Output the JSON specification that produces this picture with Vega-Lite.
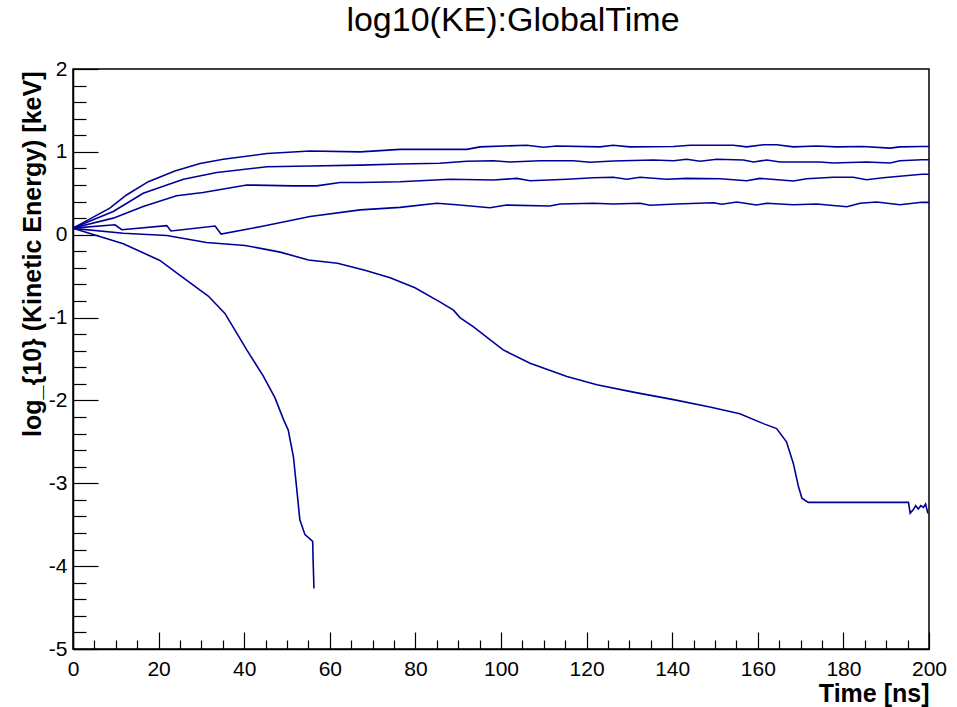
{
  "$schema": "https://vega.github.io/schema/vega-lite/v6.json",
  "width": 856,
  "height": 580,
  "autosize": "none",
  "padding": {"left": 73, "top": 69, "right": 28, "bottom": 58},
  "background": "white",
  "view": {"stroke": "black", "strokeWidth": 1.5},
  "config": {"font": "Liberation Sans"},
  "title": {"text": "log10(KE):GlobalTime", "fontSize": 34, "font": "Liberation Sans", "fontWeight": "normal", "color": "black", "anchor": "middle", "frame": "group", "offset": 20, "dx": 12},
  "datasets": {
    "tracks": [
      {"t":0,"ke":0.08,"track":"a"},{"t":8.6,"ke":0.32,"track":"a"},{"t":12.5,"ke":0.48,"track":"a"},{"t":17.6,"ke":0.64,"track":"a"},{"t":23.8,"ke":0.77,"track":"a"},{"t":29.7,"ke":0.86,"track":"a"},{"t":35.1,"ke":0.91,"track":"a"},{"t":45.3,"ke":0.98,"track":"a"},{"t":55.4,"ke":1.01,"track":"a"},{"t":67.1,"ke":1.0,"track":"a"},{"t":76.4,"ke":1.03,"track":"a"},{"t":92,"ke":1.03,"track":"a"},{"t":95.1,"ke":1.06,"track":"a"},{"t":106,"ke":1.08,"track":"a"},{"t":109.9,"ke":1.055,"track":"a"},{"t":113,"ke":1.07,"track":"a"},{"t":123.1,"ke":1.06,"track":"a"},{"t":126.2,"ke":1.08,"track":"a"},{"t":130.1,"ke":1.06,"track":"a"},{"t":140.3,"ke":1.065,"track":"a"},{"t":144.2,"ke":1.08,"track":"a"},{"t":154.3,"ke":1.08,"track":"a"},{"t":157.4,"ke":1.06,"track":"a"},{"t":161.3,"ke":1.085,"track":"a"},{"t":164.4,"ke":1.085,"track":"a"},{"t":168.3,"ke":1.06,"track":"a"},{"t":173.8,"ke":1.07,"track":"a"},{"t":178.4,"ke":1.06,"track":"a"},{"t":184.6,"ke":1.065,"track":"a"},{"t":190.9,"ke":1.045,"track":"a"},{"t":193.2,"ke":1.06,"track":"a"},{"t":198.3,"ke":1.065,"track":"a"},{"t":200,"ke":1.065,"track":"a"},
      {"t":0,"ke":0.08,"track":"b"},{"t":9.4,"ke":0.28,"track":"b"},{"t":16.4,"ke":0.5,"track":"b"},{"t":25.8,"ke":0.67,"track":"b"},{"t":33.6,"ke":0.75,"track":"b"},{"t":45.3,"ke":0.82,"track":"b"},{"t":55.4,"ke":0.83,"track":"b"},{"t":67.1,"ke":0.84,"track":"b"},{"t":76.4,"ke":0.853,"track":"b"},{"t":85.7,"ke":0.862,"track":"b"},{"t":92,"ke":0.886,"track":"b"},{"t":98.2,"ke":0.893,"track":"b"},{"t":102.1,"ke":0.877,"track":"b"},{"t":109.1,"ke":0.893,"track":"b"},{"t":116.9,"ke":0.893,"track":"b"},{"t":120.8,"ke":0.874,"track":"b"},{"t":126.2,"ke":0.889,"track":"b"},{"t":135.6,"ke":0.902,"track":"b"},{"t":140.3,"ke":0.893,"track":"b"},{"t":143.4,"ke":0.91,"track":"b"},{"t":146.5,"ke":0.886,"track":"b"},{"t":150.4,"ke":0.91,"track":"b"},{"t":156.6,"ke":0.902,"track":"b"},{"t":159,"ke":0.877,"track":"b"},{"t":162.1,"ke":0.902,"track":"b"},{"t":165.2,"ke":0.877,"track":"b"},{"t":174.5,"ke":0.877,"track":"b"},{"t":177.6,"ke":0.865,"track":"b"},{"t":185.4,"ke":0.877,"track":"b"},{"t":190.9,"ke":0.865,"track":"b"},{"t":193.2,"ke":0.893,"track":"b"},{"t":198.3,"ke":0.905,"track":"b"},{"t":200,"ke":0.905,"track":"b"},
      {"t":0,"ke":0.08,"track":"c"},{"t":9.4,"ke":0.2,"track":"c"},{"t":16.4,"ke":0.34,"track":"c"},{"t":24.2,"ke":0.47,"track":"c"},{"t":30.4,"ke":0.51,"track":"c"},{"t":40.6,"ke":0.6,"track":"c"},{"t":51.5,"ke":0.59,"track":"c"},{"t":56.9,"ke":0.59,"track":"c"},{"t":62.4,"ke":0.63,"track":"c"},{"t":67.1,"ke":0.63,"track":"c"},{"t":76.4,"ke":0.64,"track":"c"},{"t":88.1,"ke":0.669,"track":"c"},{"t":98.2,"ke":0.66,"track":"c"},{"t":103.7,"ke":0.68,"track":"c"},{"t":106.8,"ke":0.652,"track":"c"},{"t":115.4,"ke":0.669,"track":"c"},{"t":121.6,"ke":0.688,"track":"c"},{"t":126.2,"ke":0.693,"track":"c"},{"t":129.4,"ke":0.669,"track":"c"},{"t":132.5,"ke":0.693,"track":"c"},{"t":138.7,"ke":0.669,"track":"c"},{"t":143.4,"ke":0.68,"track":"c"},{"t":151.2,"ke":0.676,"track":"c"},{"t":157.4,"ke":0.652,"track":"c"},{"t":160.5,"ke":0.68,"track":"c"},{"t":168.3,"ke":0.648,"track":"c"},{"t":171.4,"ke":0.676,"track":"c"},{"t":177.6,"ke":0.693,"track":"c"},{"t":182.3,"ke":0.693,"track":"c"},{"t":185.4,"ke":0.664,"track":"c"},{"t":189.3,"ke":0.688,"track":"c"},{"t":198.3,"ke":0.729,"track":"c"},{"t":200,"ke":0.73,"track":"c"},
      {"t":0,"ke":0.08,"track":"d"},{"t":9.8,"ke":0.12,"track":"d"},{"t":11.4,"ke":0.06,"track":"d"},{"t":21.9,"ke":0.11,"track":"d"},{"t":22.9,"ke":0.045,"track":"d"},{"t":33.2,"ke":0.105,"track":"d"},{"t":34.6,"ke":0.008,"track":"d"},{"t":43.7,"ke":0.097,"track":"d"},{"t":55.4,"ke":0.22,"track":"d"},{"t":67.1,"ke":0.3,"track":"d"},{"t":76.4,"ke":0.33,"track":"d"},{"t":85,"ke":0.379,"track":"d"},{"t":89.6,"ke":0.362,"track":"d"},{"t":97.4,"ke":0.326,"track":"d"},{"t":101.3,"ke":0.358,"track":"d"},{"t":111.4,"ke":0.346,"track":"d"},{"t":113.8,"ke":0.37,"track":"d"},{"t":121.6,"ke":0.379,"track":"d"},{"t":126.2,"ke":0.37,"track":"d"},{"t":132.5,"ke":0.379,"track":"d"},{"t":134.8,"ke":0.355,"track":"d"},{"t":141,"ke":0.37,"track":"d"},{"t":149.6,"ke":0.386,"track":"d"},{"t":151.6,"ke":0.367,"track":"d"},{"t":155.1,"ke":0.395,"track":"d"},{"t":159.7,"ke":0.358,"track":"d"},{"t":162.1,"ke":0.379,"track":"d"},{"t":168.3,"ke":0.362,"track":"d"},{"t":173.8,"ke":0.37,"track":"d"},{"t":180.8,"ke":0.338,"track":"d"},{"t":183.9,"ke":0.379,"track":"d"},{"t":187.8,"ke":0.395,"track":"d"},{"t":193.2,"ke":0.362,"track":"d"},{"t":198.3,"ke":0.391,"track":"d"},{"t":200,"ke":0.39,"track":"d"},
      {"t":0,"ke":0.077,"track":"e"},{"t":11.75,"ke":0.017,"track":"e"},{"t":21.9,"ke":-0.01,"track":"e"},{"t":31.2,"ke":-0.094,"track":"e"},{"t":40.2,"ke":-0.13,"track":"e"},{"t":48.4,"ke":-0.21,"track":"e"},{"t":55,"ke":-0.305,"track":"e"},{"t":61.8,"ke":-0.345,"track":"e"},{"t":68.2,"ke":-0.43,"track":"e"},{"t":74.1,"ke":-0.52,"track":"e"},{"t":79.9,"ke":-0.64,"track":"e"},{"t":85.7,"ke":-0.81,"track":"e"},{"t":88.9,"ke":-0.91,"track":"e"},{"t":90.4,"ke":-1.0,"track":"e"},{"t":93.5,"ke":-1.11,"track":"e"},{"t":100.5,"ke":-1.39,"track":"e"},{"t":106.8,"ke":-1.55,"track":"e"},{"t":115.4,"ke":-1.71,"track":"e"},{"t":122.4,"ke":-1.81,"track":"e"},{"t":130.9,"ke":-1.9,"track":"e"},{"t":140.3,"ke":-1.99,"track":"e"},{"t":148.8,"ke":-2.08,"track":"e"},{"t":155.8,"ke":-2.16,"track":"e"},{"t":161.3,"ke":-2.28,"track":"e"},{"t":164.4,"ke":-2.34,"track":"e"},{"t":166.7,"ke":-2.5,"track":"e"},{"t":168.3,"ke":-2.76,"track":"e"},{"t":169.5,"ke":-3.04,"track":"e"},{"t":170.3,"ke":-3.18,"track":"e"},{"t":171.8,"ke":-3.23,"track":"e"},{"t":195.2,"ke":-3.23,"track":"e"},{"t":195.6,"ke":-3.36,"track":"e"},{"t":196.3,"ke":-3.32,"track":"e"},{"t":196.9,"ke":-3.27,"track":"e"},{"t":197.5,"ke":-3.31,"track":"e"},{"t":198.1,"ke":-3.27,"track":"e"},{"t":198.7,"ke":-3.29,"track":"e"},{"t":199.2,"ke":-3.25,"track":"e"},{"t":199.7,"ke":-3.355,"track":"e"},{"t":199.85,"ke":-3.36,"track":"e"},
      {"t":0,"ke":0.077,"track":"f"},{"t":11.75,"ke":-0.11,"track":"f"},{"t":20.3,"ke":-0.31,"track":"f"},{"t":25,"ke":-0.49,"track":"f"},{"t":31.6,"ke":-0.74,"track":"f"},{"t":35.5,"ke":-0.95,"track":"f"},{"t":40.6,"ke":-1.39,"track":"f"},{"t":44.5,"ke":-1.71,"track":"f"},{"t":47.2,"ke":-1.97,"track":"f"},{"t":49.1,"ke":-2.22,"track":"f"},{"t":50.3,"ke":-2.36,"track":"f"},{"t":51.5,"ke":-2.68,"track":"f"},{"t":52.3,"ke":-3.08,"track":"f"},{"t":53,"ke":-3.44,"track":"f"},{"t":54.2,"ke":-3.62,"track":"f"},{"t":56,"ke":-3.7,"track":"f"},{"t":56.1,"ke":-3.93,"track":"f"},{"t":56.3,"ke":-4.27,"track":"f"}
    ]
  },
  "data": {"name": "tracks"},
  "resolve": {"axis": {"x": "independent", "y": "independent"}},
  "layer": [
    {
      "mark": {"type": "line", "color": "#000099", "strokeWidth": 1.6, "interpolate": "linear"},
      "encoding": {
        "x": {"field": "t", "type": "quantitative", "scale": {"domain": [0, 200], "nice": false, "zero": false},
          "axis": {"orient": "bottom", "values": [0,20,40,60,80,100,120,140,160,180,200], "ticks": false, "grid": false, "domain": true, "domainColor": "black", "domainWidth": 1.5,
            "labelFont": "Liberation Sans", "labelFontSize": 21, "labelColor": "black", "labelPadding": 9, "labelFlush": false, "labelExpr": "'' + datum.value",
            "title": "Time [ns]", "titleFont": "Liberation Sans", "titleFontSize": 25, "titleFontWeight": "bold", "titleColor": "black", "titleAnchor": "end", "titleAlign": "right", "titleBaseline": "alphabetic", "titleX": 856, "titleY": 52}},
        "y": {"field": "ke", "type": "quantitative", "scale": {"domain": [-5, 2], "nice": false, "zero": false},
          "axis": {"orient": "left", "values": [-5,-4,-3,-2,-1,0,1,2], "ticks": false, "grid": false, "domain": true, "domainColor": "black", "domainWidth": 1.5,
            "labelFont": "Liberation Sans", "labelFontSize": 21, "labelColor": "black", "labelPadding": 6, "labelFlush": false, "labelExpr": "'' + datum.value",
            "title": "log_{10} (Kinetic Energy) [keV]", "titleFont": "Liberation Sans", "titleFontSize": 25, "titleFontWeight": "bold", "titleColor": "black", "titleAngle": 270, "titleAlign": "right", "titleBaseline": "alphabetic", "titleX": -33, "titleY": 2}},
        "detail": {"field": "track", "type": "nominal"}
      }
    },
    {
      "mark": {"type": "point", "opacity": 0},
      "encoding": {
        "x": {"field": "t", "type": "quantitative", "axis": {"orient": "bottom", "values": [0,20,40,60,80,100,120,140,160,180,200], "labels": false, "domain": false, "grid": false, "ticks": true, "tickSize": -17, "tickColor": "black", "tickWidth": 1.2, "title": null}},
        "y": {"field": "ke", "type": "quantitative", "axis": {"orient": "left", "values": [-5,-4,-3,-2,-1,0,1,2], "labels": false, "domain": false, "grid": false, "ticks": true, "tickSize": -25, "tickColor": "black", "tickWidth": 1.2, "title": null}}
      }
    },
    {
      "mark": {"type": "point", "opacity": 0},
      "encoding": {
        "x": {"field": "t", "type": "quantitative", "axis": {"orient": "bottom", "values": [5,10,15,25,30,35,45,50,55,65,70,75,85,90,95,105,110,115,125,130,135,145,150,155,165,170,175,185,190,195], "labels": false, "domain": false, "grid": false, "ticks": true, "tickSize": -9, "tickColor": "black", "tickWidth": 1.2, "title": null}},
        "y": {"field": "ke", "type": "quantitative", "axis": {"orient": "left", "values": [-4.8,-4.6,-4.4,-4.2,-3.8,-3.6,-3.4,-3.2,-2.8,-2.6,-2.4,-2.2,-1.8,-1.6,-1.4,-1.2,-0.8,-0.6,-0.4,-0.2,0.2,0.4,0.6,0.8,1.2,1.4,1.6,1.8], "labels": false, "domain": false, "grid": false, "ticks": true, "tickSize": -13, "tickColor": "black", "tickWidth": 1.2, "title": null}}
      }
    }
  ]
}
